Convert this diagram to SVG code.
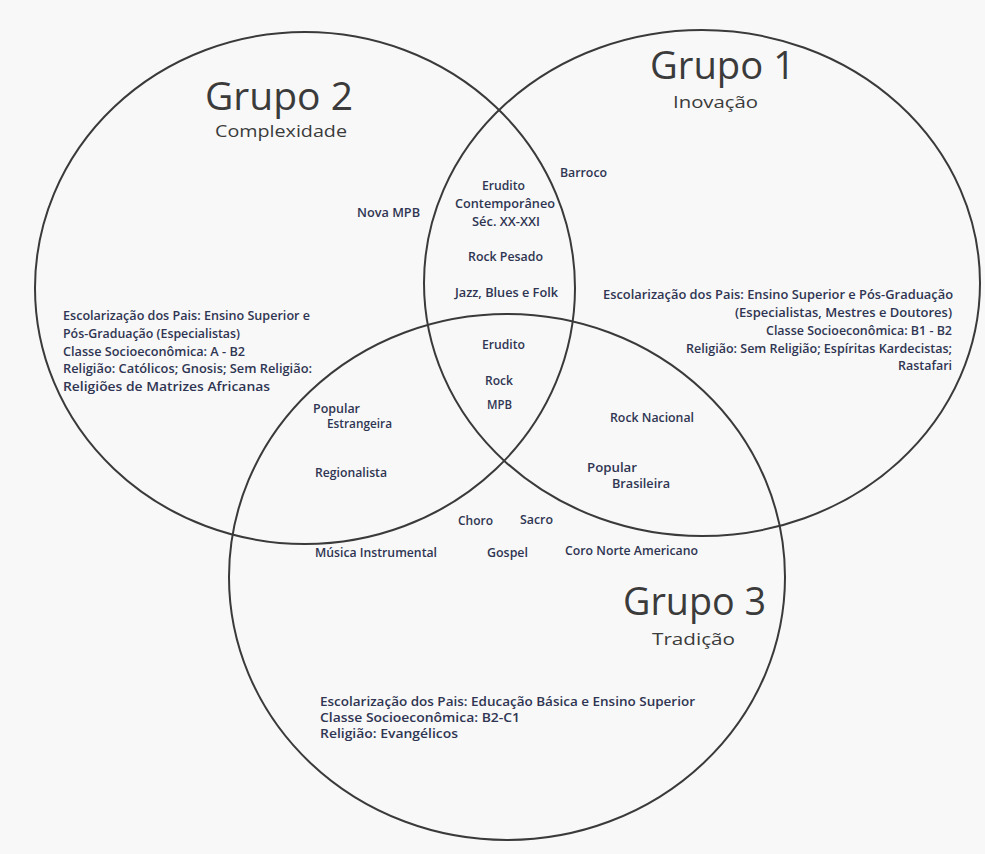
<svg xmlns="http://www.w3.org/2000/svg" width="985" height="854" viewBox="0 0 985 854">
<style>
.ring{fill:none;stroke:#3a3a3a;stroke-width:2}
.title{font-family:"Open Sans","Liberation Sans",sans-serif;font-size:39px;fill:#3b3b3b}
.sub{font-family:"Open Sans","Liberation Sans",sans-serif;font-size:16px;fill:#3b3b3b}
.t{font-family:"Open Sans","Liberation Sans",sans-serif;font-size:12px;font-weight:600;fill:#2f3552}
.e{text-anchor:end}
</style>
<rect width="985" height="854" fill="#f8f8f8"/>
<g id="connectors"/>
<g id="grupo2">
<ellipse class="ring" cx="305" cy="288" rx="270" ry="256"/>
<text class="title" x="205" y="110" textLength="148" lengthAdjust="spacingAndGlyphs">Grupo 2</text>
<text class="sub" x="215" y="137" textLength="132" lengthAdjust="spacingAndGlyphs">Complexidade</text>
<text class="t" x="63" y="320" textLength="247" lengthAdjust="spacingAndGlyphs">Escolarização dos Pais: Ensino Superior e</text>
<text class="t" x="63" y="338" textLength="177" lengthAdjust="spacingAndGlyphs">Pós-Graduação (Especialistas)</text>
<text class="t" x="63" y="356" textLength="182" lengthAdjust="spacingAndGlyphs">Classe Socioeconômica: A - B2</text>
<text class="t" x="63" y="373" textLength="249" lengthAdjust="spacingAndGlyphs">Religião: Católicos; Gnosis; Sem Religião:</text>
<text class="t" x="63" y="391" textLength="207" lengthAdjust="spacingAndGlyphs">Religiões de Matrizes Africanas</text>
</g>
<g id="grupo1">
<ellipse class="ring" cx="702" cy="283" rx="278" ry="253"/>
<text class="title" x="650" y="79" textLength="145" lengthAdjust="spacingAndGlyphs">Grupo 1</text>
<text class="sub" x="673" y="108" textLength="85" lengthAdjust="spacingAndGlyphs">Inovação</text>
<text class="t" x="603" y="299" textLength="350" lengthAdjust="spacingAndGlyphs">Escolarização dos Pais: Ensino Superior e Pós-Graduação</text>
<text class="t e" x="952" y="317" textLength="217" lengthAdjust="spacingAndGlyphs">(Especialistas, Mestres e Doutores)</text>
<text class="t e" x="952" y="335" textLength="186" lengthAdjust="spacingAndGlyphs">Classe Socioeconômica: B1 - B2</text>
<text class="t e" x="952" y="353" textLength="266" lengthAdjust="spacingAndGlyphs">Religião: Sem Religião; Espíritas Kardecistas;</text>
<text class="t e" x="952" y="370" textLength="54" lengthAdjust="spacingAndGlyphs">Rastafari</text>
</g>
<g id="grupo3">
<ellipse class="ring" cx="507" cy="577" rx="278" ry="263"/>
<text class="title" x="623" y="615" textLength="143" lengthAdjust="spacingAndGlyphs">Grupo 3</text>
<text class="sub" x="652" y="645" textLength="83" lengthAdjust="spacingAndGlyphs">Tradição</text>
<text class="t" x="320" y="706" textLength="375" lengthAdjust="spacingAndGlyphs">Escolarização dos Pais: Educação Básica e Ensino Superior</text>
<text class="t" x="320" y="722" textLength="200" lengthAdjust="spacingAndGlyphs">Classe Socioeconômica: B2-C1</text>
<text class="t" x="320" y="738" textLength="138" lengthAdjust="spacingAndGlyphs">Religião: Evangélicos</text>
</g>
<g id="labels-1-2">
<text class="t" x="560" y="177" textLength="47" lengthAdjust="spacingAndGlyphs">Barroco</text>
<text class="t" x="357" y="217" textLength="63" lengthAdjust="spacingAndGlyphs">Nova MPB</text>
<text class="t" x="482" y="190" textLength="43" lengthAdjust="spacingAndGlyphs">Erudito</text>
<text class="t" x="455" y="208" textLength="100" lengthAdjust="spacingAndGlyphs">Contemporâneo</text>
<text class="t" x="472" y="226" textLength="68" lengthAdjust="spacingAndGlyphs">Séc. XX-XXI</text>
<text class="t" x="468" y="261" textLength="75" lengthAdjust="spacingAndGlyphs">Rock Pesado</text>
<text class="t" x="455" y="297" textLength="103" lengthAdjust="spacingAndGlyphs">Jazz, Blues e Folk</text>
</g>
<g id="labels-center">
<text class="t" x="482" y="349" textLength="43" lengthAdjust="spacingAndGlyphs">Erudito</text>
<text class="t" x="485" y="385" textLength="28" lengthAdjust="spacingAndGlyphs">Rock</text>
<text class="t" x="487" y="409" textLength="25" lengthAdjust="spacingAndGlyphs">MPB</text>
</g>
<g id="labels-2-3">
<text class="t" x="313" y="413" textLength="47" lengthAdjust="spacingAndGlyphs">Popular</text>
<text class="t" x="327" y="428" textLength="65" lengthAdjust="spacingAndGlyphs">Estrangeira</text>
<text class="t" x="315" y="477" textLength="72" lengthAdjust="spacingAndGlyphs">Regionalista</text>
</g>
<g id="labels-1-3">
<text class="t" x="610" y="422" textLength="84" lengthAdjust="spacingAndGlyphs">Rock Nacional</text>
<text class="t" x="587" y="472" textLength="50" lengthAdjust="spacingAndGlyphs">Popular</text>
<text class="t" x="612" y="488" textLength="58" lengthAdjust="spacingAndGlyphs">Brasileira</text>
</g>
<g id="labels-3">
<text class="t" x="458" y="525" textLength="35" lengthAdjust="spacingAndGlyphs">Choro</text>
<text class="t" x="520" y="524" textLength="33" lengthAdjust="spacingAndGlyphs">Sacro</text>
<text class="t" x="315" y="557" textLength="122" lengthAdjust="spacingAndGlyphs">Música Instrumental</text>
<text class="t" x="487" y="557" textLength="41" lengthAdjust="spacingAndGlyphs">Gospel</text>
<text class="t" x="565" y="555" textLength="133" lengthAdjust="spacingAndGlyphs">Coro Norte Americano</text>
</g>
</svg>
